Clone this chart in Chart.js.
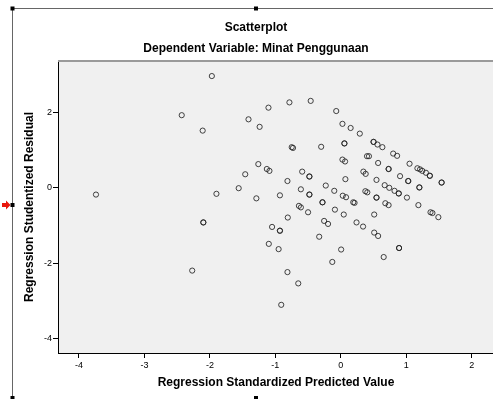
<!DOCTYPE html>
<html><head><meta charset="utf-8">
<script src="https://cdn.jsdelivr.net/npm/chart.js@4"></script>
<style>html,body{margin:0;padding:0;background:#fff;overflow:hidden}#wrap{position:relative;width:512px;height:399px}</style>
</head><body><div id="wrap"><canvas id="c"></canvas></div>
<script>
const predictedValues = [
 -3.74,-2.43,-2.11,-1.97,-1.90,-2.10,-2.10,-2.27,-1.56,-1.46,
 -1.41,-1.29,-1.26,-1.24,-1.13,-1.09,-1.105,-1.10,-1.05,-0.93,
 -0.93,-0.95,-0.93,-0.91,-0.815,-0.81,-0.815,-0.785,-0.75,-0.73,
 -0.65,-0.64,-0.61,-0.61,-0.59,-0.50,-0.48,-0.48,-0.48,-0.48,
 -0.46,-0.33,-0.30,-0.28,-0.28,-0.255,-0.23,-0.195,-0.13,-0.10,
 -0.09,-0.07,0.005,0.025,0.025,0.065,0.055,0.055,0.03,0.08,
 0.07,0.045,0.15,0.19,0.21,0.24,0.29,0.34,0.345,0.38,
 0.375,0.405,0.40,0.43,0.50,0.50,0.51,0.51,0.545,0.545,
 0.545,0.56,0.57,0.57,0.635,0.655,0.67,0.74,0.82,0.885,
 0.885,0.68,0.73,0.73,0.73,0.80,0.86,0.89,0.89,0.905,
 1.01,1.03,1.03,1.05,1.17,1.21,1.245,1.30,1.185,1.20,
 1.20,1.36,1.36,1.37,1.40,1.49,1.54,1.54
];
const studentizedResiduals = [
 -0.18,1.93,1.52,2.97,-0.16,-0.92,-0.92,-2.20,-0.01,0.36,
 1.82,-0.28,0.63,1.62,0.50,0.45,2.13,-1.49,-1.04,-1.14,
 -1.14,-1.63,-0.20,-3.11,0.18,-0.79,-2.24,2.27,1.08,1.06,
 -2.54,-0.48,-0.52,-0.04,0.43,-0.65,0.30,0.30,-0.18,-0.18,
 2.31,-1.30,1.09,-0.385,-0.385,-0.88,0.06,-0.96,-1.97,-0.08,
 -0.58,2.04,-1.64,1.70,0.75,0.70,1.18,1.18,-0.21,-0.25,
 0.23,-0.71,1.59,-0.385,-0.40,-0.92,1.44,-1.03,0.43,0.37,
 -0.09,-0.12,0.84,0.84,1.22,1.22,-0.71,-1.19,0.21,-0.26,
 -0.26,1.15,0.66,-1.28,1.08,-1.84,0.07,0.00,-0.08,-0.15,
 -0.15,-0.41,-0.46,0.50,0.50,0.91,0.85,-1.60,-1.60,0.31,
 -0.26,0.18,0.18,0.64,0.52,0.49,0.45,0.40,-0.46,0.01,
 0.01,0.32,0.32,-0.65,-0.67,-0.78,0.14,0.14
];
const xTickValues = [-4,-3,-2,-1,0,1,2];
const yTickValues = [-4,-2,0,2];
const titleText = 'Scatterplot';
const subtitleText = 'Dependent Variable: Minat Penggunaan';
const xAxisTitle = 'Regression Standardized Predicted Value';
const yAxisTitle = 'Regression Studentized Residual';

const FONT = "Arial, 'Liberation Sans', sans-serif";
const points = predictedValues.map((x, i) => ({x: x, y: studentizedResiduals[i]}));

const decor = {
  id: 'decor',
  beforeDraw(chart) {
    const {ctx, chartArea: a} = chart;
    ctx.save();
    ctx.fillStyle = '#f0f0f0';
    ctx.fillRect(a.left, a.top, a.right - a.left, a.bottom - a.top);
    ctx.restore();
  },
  afterDraw(chart) {
    const {ctx, chartArea: a} = chart;
    ctx.save();
    // plot frame top
    ctx.strokeStyle = '#9a9a9a';
    ctx.lineWidth = 2;
    ctx.beginPath(); ctx.moveTo(a.left, a.top); ctx.lineTo(a.right, a.top); ctx.stroke();
    // outer selection frame
    ctx.strokeStyle = '#666';
    ctx.lineWidth = 1;
    ctx.beginPath(); ctx.moveTo(12.5, 8.5); ctx.lineTo(512, 8.5); ctx.stroke();
    ctx.beginPath(); ctx.moveTo(12.5, 8.5); ctx.lineTo(12.5, 399); ctx.stroke();
    ctx.fillStyle = '#000';
    [[12.5,8.5],[256,8.5],[12.5,205],[12.5,398],[256,398]].forEach(([x,y]) => ctx.fillRect(x-2, y-2, 4, 4));
    // red arrow
    ctx.fillStyle = '#e8160c';
    ctx.beginPath();
    ctx.moveTo(2, 203); ctx.lineTo(6, 203); ctx.lineTo(6, 200.5); ctx.lineTo(10.5, 205);
    ctx.lineTo(6, 209.5); ctx.lineTo(6, 207); ctx.lineTo(2, 207); ctx.closePath(); ctx.fill();
    ctx.restore();
  }
};

new Chart(document.getElementById('c'), {
  type: 'scatter',
  data: { datasets: [{
    data: points,
    pointStyle: 'circle',
    pointRadius: 2.6,
    pointBorderWidth: 1,
    pointBackgroundColor: 'rgba(0,0,0,0)',
    pointBorderColor: 'rgba(35,35,35,0.85)'
  }]},
  options: {
    responsive: true, maintainAspectRatio: false, animation: false, devicePixelRatio: 1,
    layout: { padding: 0, autoPadding: false },
    plugins: {
      legend: { display: false }, tooltip: { enabled: false },
      title: { display: true, text: titleText, color: '#000',
        font: { family: FONT, size: 12, weight: 'bold' }, padding: { top: 20, bottom: 0 } },
      subtitle: { display: true, text: subtitleText, color: '#000',
        font: { family: FONT, size: 12, weight: 'bold' }, padding: { top: 7.4, bottom: 4.8 } }
    },
    scales: {
      x: {
        type: 'linear', min: -4.32, max: 2.34,
        afterBuildTicks: s => { s.ticks = xTickValues.map(v => ({ value: v })); },
        afterFit: s => { s.height = 46; },
        ticks: { autoSkip: false, maxRotation: 0, color: '#000', padding: 2,
          font: { family: FONT, size: 9 }, callback: v => String(v) },
        grid: { drawOnChartArea: false, drawTicks: true, tickLength: 5, color: '#000' },
        border: { display: true, color: '#000', width: 1 },
        title: { display: true, text: xAxisTitle, color: '#000',
          font: { family: FONT, size: 12, weight: 'bold' }, padding: { top: 0, bottom: 8.8 } }
      },
      y: {
        type: 'linear', position: 'left', min: -4.39, max: 3.37,
        afterBuildTicks: s => { s.ticks = yTickValues.map(v => ({ value: v })); },
        afterFit: s => { s.width = 58; },
        ticks: { autoSkip: false, color: '#000', padding: 1,
          font: { family: FONT, size: 9 }, callback: v => String(v) },
        grid: { drawOnChartArea: false, drawTicks: true, tickLength: 5, color: '#000' },
        border: { display: true, color: '#000', width: 1 },
        title: { display: true, text: yAxisTitle, color: '#000',
          font: { family: FONT, size: 12, weight: 'bold' }, padding: { top: 22.8, bottom: 0 } }
      },
      y2: {
        type: 'linear', position: 'right', display: true,
        ticks: { display: false }, grid: { display: false }, border: { display: false },
        afterFit: s => { s.width = 18; }
      }
    }
  },
  plugins: [decor]
});
</script></body></html>
